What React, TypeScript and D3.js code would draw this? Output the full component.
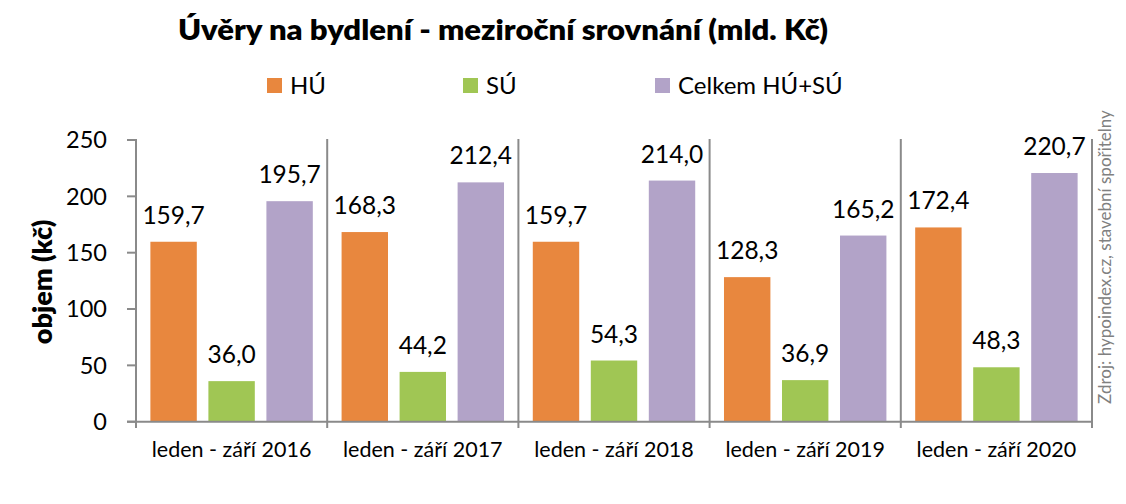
import React from "react";
import * as d3 from "d3";

const categories = [
  "leden - září 2016",
  "leden - září 2017",
  "leden - září 2018",
  "leden - září 2019",
  "leden - září 2020",
];
const seriesNames = ["HÚ", "SÚ", "Celkem HÚ+SÚ"];
const huValues = [159.7, 168.3, 159.7, 128.3, 172.4];
const suValues = [36.0, 44.2, 54.3, 36.9, 48.3];
const totalValues = [195.7, 212.4, 214.0, 165.2, 220.7];
const yTicks = [0, 50, 100, 150, 200, 250];
const colors = ["#E8873E", "#A0C654", "#B2A3C8"];
const title = "Úvěry na bydlení - meziroční srovnání (mld. Kč)";
const yTitle = "objem (kč)";
const source = "Zdroj: hypoindex.cz, stavební spořitelny";

const W = 1126;
const H = 504;
const left = 136;
const right = 1092;
const top = 140;
const bottom = 421.7;
const axisColor = "#8a8a8a";
const font = "Lato, 'Open Sans', sans-serif";

export default function App() {
  const series = [huValues, suValues, totalValues];
  const x0 = d3.scaleBand<string>().domain(categories).range([left, right]).padding(0);
  const x1 = d3
    .scaleBand<string>()
    .domain(seriesNames)
    .range([0, x0.bandwidth()])
    .paddingInner(0.2)
    .paddingOuter(0.248);
  const y = d3.scaleLinear().domain([0, 250]).range([bottom, top]);
  const fmt = (v: number) => v.toFixed(1).replace(".", ",");

  const legendX = [267, 463, 655];

  return (
    <svg
      width={W}
      height={H}
      style={{ position: "absolute", left: 0, top: 0, background: "#fff" }}
      fontFamily={font}
    >
      <rect width={W} height={H} fill="#fff" />
      <text
        x={178}
        y={40}
        fontSize={29}
        fontWeight={800}
        fill="#000"
        textLength={650}
        lengthAdjust="spacingAndGlyphs"
      >
        {title}
      </text>
      {seriesNames.map((s, i) => (
        <g key={s}>
          <rect x={legendX[i]} y={78} width={15} height={15} fill={colors[i]} />
          <text x={legendX[i] + 23} y={94} fontSize={24} fill="#000">
            {s}
          </text>
        </g>
      ))}
      <text
        transform={`translate(52,${282}) rotate(-90)`}
        textAnchor="middle"
        fontSize={27}
        fontWeight={800}
        fill="#000"
      >
        {yTitle}
      </text>
      {yTicks.map((t) => (
        <g key={t}>
          <line x1={127} x2={left} y1={y(t)} y2={y(t)} stroke={axisColor} strokeWidth={2} />
          <text x={107} y={y(t)} dy="0.35em" textAnchor="end" fontSize={23.5} fill="#000">
            {t}
          </text>
        </g>
      ))}
      {categories.map((c, ci) => (
        <g key={c}>
          {series.map((vals, si) => {
            const bx = (x0(c) as number) + (x1(seriesNames[si]) as number);
            const bw = x1.bandwidth();
            return (
              <g key={si}>
                <rect x={bx} y={y(vals[ci])} width={bw} height={bottom - y(vals[ci])} fill={colors[si]} />
                <text
                  x={bx + bw / 2}
                  y={y(vals[ci]) - 18}
                  textAnchor="middle"
                  fontSize={24.5}
                  fill="#000"
                >
                  {fmt(vals[ci])}
                </text>
              </g>
            );
          })}
          <text
            x={(x0(c) as number) + x0.bandwidth() / 2}
            y={457}
            textAnchor="middle"
            fontSize={21.5}
            fill="#000"
          >
            {c}
          </text>
        </g>
      ))}
      {[...categories.map((c) => x0(c) as number), right].map((sx, i) => (
        <line key={i} x1={sx} x2={sx} y1={top - 1} y2={428} stroke={axisColor} strokeWidth={2} />
      ))}
      <line x1={left - 9} x2={right} y1={bottom} y2={bottom} stroke={axisColor} strokeWidth={2} />
      <text
        transform={`translate(1111,${257}) rotate(-90)`}
        textAnchor="middle"
        fontSize={17}
        fill="#808080"
      >
        {source}
      </text>
    </svg>
  );
}
